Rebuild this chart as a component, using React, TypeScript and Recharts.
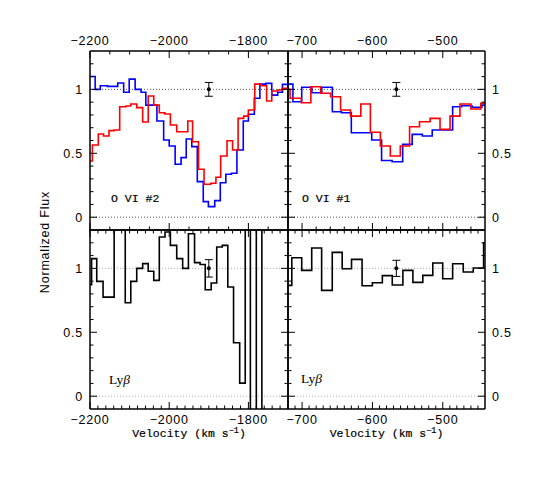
import React from 'react';
import { ComposedChart, Line, XAxis, YAxis, ReferenceLine, Scatter, ErrorBar } from 'recharts';

const W = 552;
const H = 477;

// ---------- data (velocity = left edge of each bin, flux = bin value) ----------
// Top-left: O VI #2
const tlBlueV = [-2200, -2187, -2174, -2156, -2130, -2115, -2101, -2086, -2071, -2059, -2031, -2014, -2000, -1985, -1970, -1957, -1943, -1929, -1914, -1901, -1885, -1871, -1857, -1843, -1829, -1813, -1800, -1785, -1771, -1756, -1741, -1726, -1714];
const tlBlueF = [1.10, 1.0, 1.028, 1.023, 1.05, 0.977, 1.08, 1.0, 0.977, 0.877, 0.752, 0.604, 0.557, 0.414, 0.466, 0.612, 0.552, 0.278, 0.122, 0.083, 0.13, 0.27, 0.336, 0.344, 0.526, 0.752, 0.805, 0.93, 1.041, 1.047, 0.955, 0.977, 1.039];
const tlRedV = [-2200, -2194, -2179, -2166, -2152, -2139, -2125, -2109, -2097, -2082, -2067, -2053, -2039, -2025, -2011, -1997, -1981, -1953, -1941, -1926, -1912, -1895, -1882, -1870, -1854, -1840, -1826, -1812, -1800, -1784, -1768, -1754, -1741, -1726, -1714];
const tlRedF = [0.44, 0.565, 0.651, 0.635, 0.677, 0.682, 0.864, 0.87, 0.885, 0.857, 0.745, 0.948, 0.877, 0.817, 0.807, 0.721, 0.669, 0.752, 0.59, 0.375, 0.258, 0.266, 0.312, 0.479, 0.598, 0.526, 0.773, 0.791, 0.838, 1.041, 1.028, 0.909, 0.987, 0.995, 1.008];

// Top-right: O VI #1
const trBlueV = [-720, -713, -700.5, -686, -672, -657, -644, -630, -601, -587, -572, -557, -543.5, -529, -515, -486, -473, -458.6, -444.5];
const trBlueF = [1.041, 0.903, 1.016, 0.974, 1.016, 0.825, 0.817, 0.661, 0.604, 0.443, 0.434, 0.57, 0.648, 0.635, 0.682, 0.864, 0.872, 0.86, 0.877];
const trRedV = [-720, -717, -701, -687.5, -673.6, -659.4, -645.3, -631.2, -616.5, -602.9, -588.7, -574.6, -560.4, -547.2, -533.1, -518, -503.9, -489.7, -475.6, -460, -446];
const trRedF = [1.0, 0.93, 0.895, 1.02, 0.969, 0.942, 0.838, 0.791, 0.885, 0.664, 0.557, 0.479, 0.557, 0.708, 0.747, 0.773, 0.687, 0.791, 0.885, 0.846, 0.89];

// Bottom-left: Ly beta (values beyond the frame run off the plot)
const blV = [-2200, -2196, -2183, -2167, -2139, -2111, -2097, -2082, -2067, -2053, -2039, -2025, -2010.5, -1997, -1981, -1966, -1951.5, -1936, -1922, -1909, -1894, -1880, -1866, -1852, -1837.5, -1822, -1808, -1795, -1780, -1766];
const blF = [0.872, 1.076, 0.898, 0.775, 1.6, 0.731, 0.898, 1.0, 1.037, 0.977, 0.906, 1.245, 1.284, 1.18, 1.076, 1.0, 1.271, 1.045, 1.03, 0.833, 0.885, 1.167, 1.18, 0.854, 0.418, 0.102, 1.6, -0.6, 1.6, -0.6];

// Bottom-right: Ly beta
const brV = [-720, -714.6, -700.5, -686.3, -672.2, -657.1, -643, -629.7, -614.7, -600.1, -585.9, -571.8, -556.7, -542.5, -528.4, -514.2, -500.1, -486, -470.9, -456.7, -442];
const brF = [0.867, 1.083, 0.984, 1.159, 0.828, 1.125, 0.997, 1.07, 0.864, 0.888, 0.943, 0.87, 0.984, 0.89, 0.945, 1.042, 0.919, 1.036, 0.971, 1.003, 1.2];

// error-bar points
const errTop = { left: [{ v: -1900, f: 1, e: 0.054 }], right: [{ v: -566, f: 1, e: 0.054 }] };
const errBottom = { left: [{ v: -1900, f: 1, e: 0.068 }], right: [{ v: -566, f: 1, e: 0.063 }] };

// axes
const leftDomain: [number, number] = [-2200, -1700];
const rightDomain: [number, number] = [-720, -440];
const yDomain: [number, number] = [-0.1, 1.3];
const leftXLabels = [-2200, -2000, -1800];
const rightXLabels = [-700, -600, -500];
const yLabels = [0, 0.5, 1];

function range(a: number, b: number, s: number) {
  const out: number[] = [];
  for (let v = a; v <= b + 1e-9; v += s) out.push(Math.round(v * 100) / 100);
  return out;
}
const tlXTicks = range(-2200, -1750, 50);
const blXTicks = range(-2200, -1720, 20);
const trXTicks = range(-720, -460, 20);
const brXTicks = range(-720, -450, 10);
const yTicks = range(0, 1.2, 0.1);

function rows(v: number[], f: number[], end: number) {
  const r = v.map((x, i) => ({ v: x, f: f[i] }));
  r.push({ v: end, f: f[f.length - 1] });
  return r;
}

const numFont = '"Liberation Sans", Arial, sans-serif';
const monoFont = '"Liberation Mono", "Courier New", monospace';
const serifFont = '"Liberation Serif", "Times New Roman", serif';

const fmtX = (v: number) => (v < 0 ? '\u2212' + Math.abs(v) : String(v));
const fmtY = (v: number) => String(v);

function makeTick(side: 'top' | 'bottom' | 'left' | 'right', majors: number[], labels: number[] | null, fmt: (v: number) => string) {
  return (props: any) => {
    const { x, y, payload } = props;
    const v = payload.value as number;
    const near = (arr: number[]) => arr.some((m) => Math.abs(m - v) < 1e-6);
    const len = near(majors) ? 7 : 3.5;
    let x2 = x;
    let y2 = y;
    if (side === 'top') y2 = y + len;
    if (side === 'bottom') y2 = y - len;
    if (side === 'left') x2 = x + len;
    if (side === 'right') x2 = x - len;
    let label: any = null;
    if (labels && near(labels)) {
      const common = { fontFamily: numFont, fontSize: 12.5, fill: '#000', letterSpacing: 0.8 } as any;
      if (side === 'top') label = <text x={x} y={y - 6} textAnchor="middle" {...common}>{fmt(v)}</text>;
      if (side === 'bottom') label = <text x={x} y={y + 14.5} textAnchor="middle" {...common}>{fmt(v)}</text>;
      if (side === 'left') label = <text x={x - 7} y={y + 4.5} textAnchor="end" {...common}>{fmt(v)}</text>;
      if (side === 'right') label = <text x={x + 7} y={y + 4.5} textAnchor="start" {...common}>{fmt(v)}</text>;
    }
    return (
      <g>
        <line x1={x} y1={y} x2={x2} y2={y2} stroke="#000" strokeWidth={1} />
        {label}
      </g>
    );
  };
}

type PanelProps = {
  plot: { x: number; y: number; w: number; h: number };
  xDomain: [number, number];
  xTicks: number[];
  xMajors: number[];
  xLabelSide: 'top' | 'bottom';
  yLabelSide: 'left' | 'right';
  series: { data: { v: number; f: number }[]; color: string }[];
  err: { v: number; f: number; e: number }[];
  refColor: string;
};

const AX = 20;
const AY = 30;
const frame = { stroke: '#000', strokeWidth: 1.5 };

function Panel({ plot, xDomain, xTicks, xMajors, xLabelSide, yLabelSide, series, err, refColor }: PanelProps) {
  const margin = {
    left: plot.x - AY,
    top: plot.y - AX,
    right: W - plot.x - plot.w - AY,
    bottom: H - plot.y - plot.h - AX,
  };
  return (
    <div style={{ position: 'absolute', left: 0, top: 0 }}>
      <ComposedChart width={W} height={H} margin={margin}>
        <XAxis xAxisId="t" orientation="top" type="number" dataKey="v" domain={xDomain} allowDataOverflow ticks={xTicks} interval={0} height={AX} tickLine={false} tickSize={0} tickMargin={0} axisLine={frame} tick={makeTick('top', xMajors, xLabelSide === 'top' ? xMajors : null, fmtX)} />
        <XAxis xAxisId="b" orientation="bottom" type="number" dataKey="v" domain={xDomain} allowDataOverflow ticks={xTicks} interval={0} height={AX} tickLine={false} tickSize={0} tickMargin={0} axisLine={frame} tick={makeTick('bottom', xMajors, xLabelSide === 'bottom' ? xMajors : null, fmtX)} />
        <YAxis yAxisId="l" orientation="left" type="number" domain={yDomain} allowDataOverflow ticks={yTicks} interval={0} width={AY} tickLine={false} tickSize={0} tickMargin={0} axisLine={frame} tick={makeTick('left', yLabels, yLabelSide === 'left' ? yLabels : null, fmtY)} />
        <YAxis yAxisId="r" orientation="right" type="number" domain={yDomain} allowDataOverflow ticks={yTicks} interval={0} width={AY} tickLine={false} tickSize={0} tickMargin={0} axisLine={frame} tick={makeTick('right', yLabels, yLabelSide === 'right' ? yLabels : null, fmtY)} />
        <ReferenceLine xAxisId="b" yAxisId="l" y={1} stroke={refColor} strokeWidth={1} strokeDasharray="1 2" />
        <ReferenceLine xAxisId="b" yAxisId="l" y={0} stroke={refColor} strokeWidth={1} strokeDasharray="1 2" />
        {series.map((s, i) => (
          <Line key={i} xAxisId="b" yAxisId="l" data={s.data} dataKey="f" type="stepAfter" stroke={s.color} strokeWidth={1.6} dot={false} activeDot={false} isAnimationActive={false} />
        ))}
        <Scatter xAxisId="b" yAxisId="l" data={err} dataKey="f" isAnimationActive={false} shape={(p: any) => <circle cx={p.cx} cy={p.cy} r={2} fill="#000" />}>
          <ErrorBar dataKey="e" direction="y" width={4} stroke="#000" strokeWidth={1} isAnimationActive={false} />
        </Scatter>
      </ComposedChart>
    </div>
  );
}

const leftBox = { x: 90, w: 198 };
const rightBox = { x: 288, w: 197 };
const topBox = { y: 51, h: 179 };
const botBox = { y: 230, h: 179 };

export default function App() {
  const txt = { fontFamily: monoFont, fontSize: 11.5, fill: '#000', stroke: '#000', strokeWidth: 0.2 } as any;
  const ly = { fontFamily: serifFont, fontSize: 13.5, fill: '#000' } as any;
  return (
    <div style={{ position: 'absolute', left: 0, top: 0, width: W, height: H, background: '#fff' }}>
      <Panel
        plot={{ x: leftBox.x, w: leftBox.w, y: topBox.y, h: topBox.h }}
        xDomain={leftDomain}
        xTicks={tlXTicks}
        xMajors={leftXLabels}
        xLabelSide="top"
        yLabelSide="left"
        series={[
          { data: rows(tlBlueV, tlBlueF, -1700), color: '#0000ff' },
          { data: rows(tlRedV, tlRedF, -1700), color: '#ff0000' },
        ]}
        err={errTop.left}
        refColor="#555"
      />
      <Panel
        plot={{ x: rightBox.x, w: rightBox.w, y: topBox.y, h: topBox.h }}
        xDomain={rightDomain}
        xTicks={trXTicks}
        xMajors={rightXLabels}
        xLabelSide="top"
        yLabelSide="right"
        series={[
          { data: rows(trBlueV, trBlueF, -440), color: '#0000ff' },
          { data: rows(trRedV, trRedF, -440), color: '#ff0000' },
        ]}
        err={errTop.right}
        refColor="#555"
      />
      <Panel
        plot={{ x: leftBox.x, w: leftBox.w, y: botBox.y, h: botBox.h }}
        xDomain={leftDomain}
        xTicks={blXTicks}
        xMajors={leftXLabels}
        xLabelSide="bottom"
        yLabelSide="left"
        series={[{ data: rows(blV, blF, -1700), color: '#000000' }]}
        err={errBottom.left}
        refColor="#aaa"
      />
      <Panel
        plot={{ x: rightBox.x, w: rightBox.w, y: botBox.y, h: botBox.h }}
        xDomain={rightDomain}
        xTicks={brXTicks}
        xMajors={rightXLabels}
        xLabelSide="bottom"
        yLabelSide="right"
        series={[{ data: rows(brV, brF, -440), color: '#000000' }]}
        err={errBottom.right}
        refColor="#aaa"
      />
      <svg width={W} height={H} style={{ position: 'absolute', left: 0, top: 0, pointerEvents: 'none' }}>
        <text x={111} y={202} {...txt}>O VI #2</text>
        <text x={302} y={202} {...txt}>O VI #1</text>
        <text x={109} y={384} {...ly}>
          Ly<tspan fontStyle="italic">β</tspan>
        </text>
        <text x={301} y={383} {...ly}>
          Ly<tspan fontStyle="italic">β</tspan>
        </text>
        <text x={189} y={437} textAnchor="middle" {...txt}>
          Velocity (km s<tspan dy={-4} fontSize={8.5}>−1</tspan><tspan dy={4}>)</tspan>
        </text>
        <text x={386.5} y={437} textAnchor="middle" {...txt}>
          Velocity (km s<tspan dy={-4} fontSize={8.5}>−1</tspan><tspan dy={4}>)</tspan>
        </text>
        <text x={49} y={242} transform="rotate(-90 49 242)" textAnchor="middle" fontFamily={numFont} fontSize={12.5} letterSpacing={0.8} fill="#000">
          Normalized Flux
        </text>
      </svg>
    </div>
  );
}
